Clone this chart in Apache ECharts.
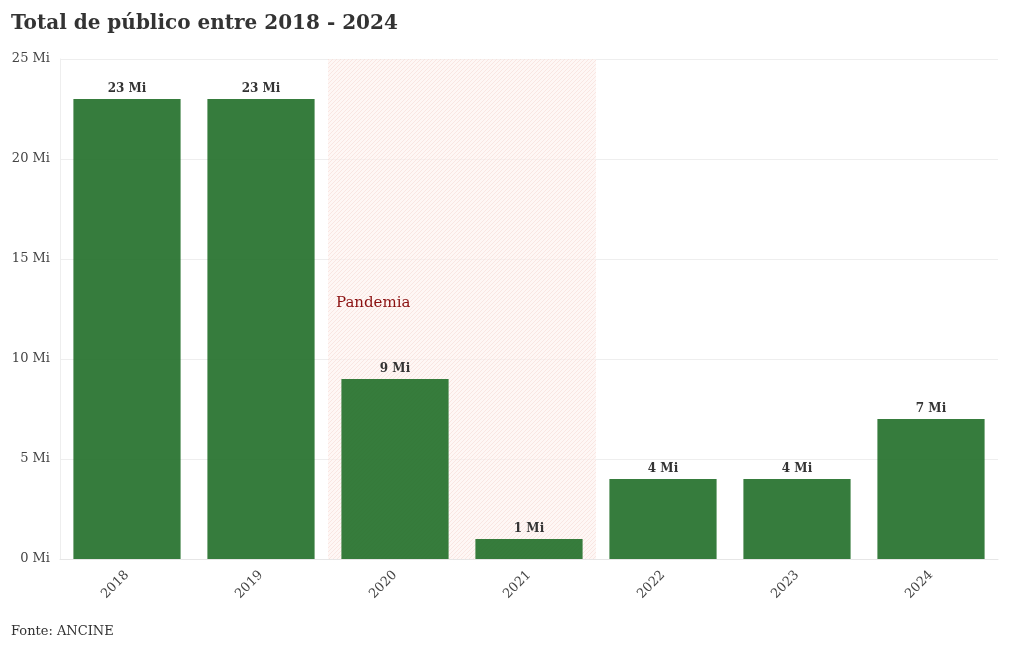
<!DOCTYPE html>
<html>
<head>
<meta charset="utf-8">
<script src="https://cdn.jsdelivr.net/npm/echarts@6/dist/echarts.min.js"></script>
<style>html,body{margin:0;padding:0;background:#fff}#c{width:1020px;height:650px}</style>
</head>
<body>
<div id="c"></div>
<script>
const categories = ['2018','2019','2020','2021','2022','2023','2024'];
const publico = [23, 23, 9, 1, 4, 4, 7];
const yTicks = [0, 5, 10, 15, 20, 25];
const pandemicRange = [2, 4];
const pandemicLabel = 'Pandemia';

const F = '"DejaVu Serif", "Liberation Serif", serif';

function hatch() {
  const s = 4;
  const cv = document.createElement('canvas');
  cv.width = s; cv.height = s;
  const g = cv.getContext('2d');
  g.fillStyle = 'rgba(253,242,239,0.6)';
  g.fillRect(0, 0, s, s);
  g.strokeStyle = 'rgba(243,205,197,0.5)';
  g.lineWidth = 0.8;
  g.beginPath();
  g.moveTo(0, s); g.lineTo(s, 0);
  g.moveTo(-s/2, s/2); g.lineTo(s/2, -s/2);
  g.moveTo(s/2, s*1.5); g.lineTo(s*1.5, s/2);
  g.stroke();
  return cv;
}

const chart = echarts.init(document.getElementById('c'), null, {renderer: 'canvas'});
chart.setOption({
  animation: false,
  backgroundColor: '#fff',
  title: [{
    text: 'Total de público entre 2018 - 2024',
    left: 11, top: 14, padding: 0,
    textStyle: {fontFamily: F, fontWeight: 'bold', fontSize: 20, color: '#333'}
  }, {
    text: 'Fonte: ANCINE',
    left: 11, top: 625, padding: 0,
    textStyle: {fontFamily: F, fontWeight: 'normal', fontSize: 13, color: '#333'}
  }],
  grid: {left: 60, right: 22, top: 59, bottom: 91},
  xAxis: [{
    type: 'category',
    data: categories,
    axisLine: {lineStyle: {color: '#e6e6e6'}},
    axisTick: {alignWithLabel: true, lineStyle: {color: '#e6e6e6'}, length: 6},
    axisLabel: {rotate: 45, fontFamily: F, fontSize: 13, color: '#444', margin: 14}
  }, {
    type: 'value', min: 0, max: categories.length, show: false
  }],
  yAxis: {
    type: 'value', min: yTicks[0], max: yTicks[yTicks.length - 1], interval: 5,
    axisLine: {show: true, lineStyle: {color: '#eeeeee'}},
    axisTick: {show: false},
    splitLine: {lineStyle: {color: '#eeeeee'}},
    axisLabel: {fontFamily: F, fontSize: 13, color: '#444', margin: 10,
      formatter: v => v + ' Mi'}
  },
  series: [{
    type: 'scatter',
    xAxisIndex: 1,
    data: [],
    z: 1,
    silent: true,
    markArea: {
      silent: true,
      itemStyle: {color: {image: hatch(), repeat: 'repeat'}},
      label: {
        show: true, position: 'insideLeft', offset: [3, -6],
        color: '#8b1010', fontFamily: F, fontSize: 15
      },
      data: [[{name: pandemicLabel, xAxis: pandemicRange[0]}, {xAxis: pandemicRange[1]}]]
    }
  }, {
    type: 'bar',
    data: publico,
    z: 3,
    barCategoryGap: '20%',
    itemStyle: {color: 'rgba(32,110,40,0.9)'},
    label: {
      show: true, position: 'top', distance: 4,
      fontFamily: F, fontWeight: 'bold', fontSize: 12, color: '#333',
      formatter: p => p.value + ' Mi'
    }
  }]
});
</script>
</body>
</html>
